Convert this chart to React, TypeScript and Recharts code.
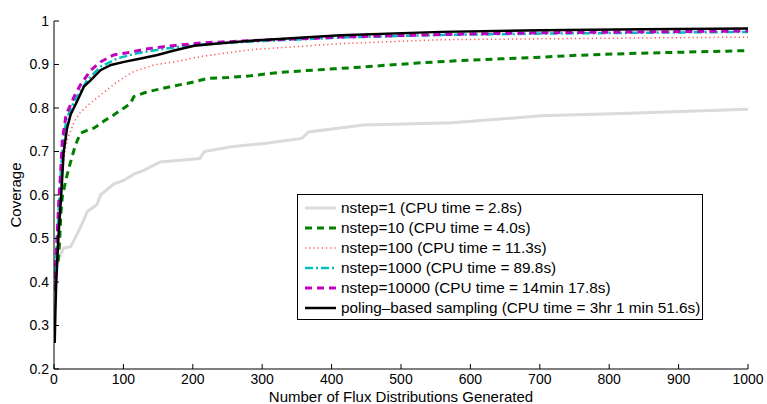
import { Legend, Line, LineChart, XAxis, YAxis } from "recharts";

const xTicks = [0, 100, 200, 300, 400, 500, 600, 700, 800, 900, 1000];
const yTicks = [0.2, 0.3, 0.4, 0.5, 0.6, 0.7, 0.8, 0.9, 1];

const grayX = [2, 5, 10, 14, 24, 34, 43, 48, 62, 67, 86, 101, 115, 130, 153, 210, 217, 255, 306, 357, 367, 446, 574, 638, 702, 829, 1000];
const grayY = [0.44, 0.445, 0.465, 0.478, 0.481, 0.512, 0.543, 0.562, 0.578, 0.6, 0.625, 0.634, 0.648, 0.657, 0.676, 0.684, 0.7, 0.711, 0.719, 0.73, 0.745, 0.761, 0.766, 0.774, 0.782, 0.788, 0.797];

const greenX = [2, 6, 8, 10, 12, 17, 22, 26, 31, 38, 50, 58, 72, 86, 100, 110, 115, 134, 168, 202, 221, 250, 283, 326, 364, 403, 443, 476, 520, 584, 644, 703, 752, 824, 897, 1000];
const greenY = [0.42, 0.45, 0.49, 0.56, 0.596, 0.634, 0.665, 0.688, 0.715, 0.742, 0.75, 0.754, 0.77, 0.784, 0.799, 0.81, 0.826, 0.837, 0.849, 0.86, 0.868, 0.87, 0.874, 0.882, 0.886, 0.89, 0.894, 0.898, 0.903, 0.909, 0.913, 0.917, 0.921, 0.925, 0.928, 0.932];

const redX = [1, 4, 7, 10, 12, 19, 29, 38, 48, 67, 91, 115, 144, 173, 211, 250, 283, 413, 558, 702, 850, 1000];
const redY = [0.4, 0.46, 0.55, 0.63, 0.665, 0.726, 0.768, 0.79, 0.805, 0.83, 0.86, 0.884, 0.899, 0.906, 0.918, 0.927, 0.934, 0.948, 0.957, 0.959, 0.961, 0.963];

const cyanX = [1, 2, 4, 7, 10, 13, 18, 29, 48, 67, 91, 120, 158, 202, 288, 413, 558, 702, 850, 1000];
const cyanY = [0.38, 0.43, 0.48, 0.575, 0.655, 0.72, 0.775, 0.815, 0.864, 0.895, 0.914, 0.926, 0.936, 0.945, 0.953, 0.962, 0.968, 0.971, 0.973, 0.975];

const magentaX = [1, 2, 4, 7, 10, 12, 17, 19, 29, 38, 53, 67, 86, 106, 130, 158, 183, 216, 288, 413, 558, 702, 850, 1000];
const magentaY = [0.38, 0.43, 0.49, 0.588, 0.665, 0.726, 0.78, 0.79, 0.826, 0.853, 0.887, 0.906, 0.922, 0.927, 0.935, 0.941, 0.945, 0.95, 0.955, 0.963, 0.969, 0.973, 0.975, 0.977];

const blackX = [1, 2, 3, 5, 7, 10, 14, 19, 24, 34, 43, 53, 67, 82, 101, 125, 149, 173, 202, 240, 288, 413, 558, 702, 850, 1000];
const blackY = [0.26, 0.33, 0.39, 0.46, 0.52, 0.59, 0.7, 0.755, 0.785, 0.818, 0.849, 0.864, 0.887, 0.899, 0.906, 0.914, 0.922, 0.932, 0.943, 0.949, 0.955, 0.967, 0.975, 0.979, 0.981, 0.983];

const zip = (xs: number[], ys: number[]) => xs.map((x, i) => ({ x, y: ys[i] }));

const series = [
    { name: "nstep=1 (CPU time = 2.8s)", data: zip(grayX, grayY), color: "#dadada", width: 3, dash: undefined },
    { name: "nstep=10 (CPU time = 4.0s)", data: zip(greenX, greenY), color: "#007f00", width: 3, dash: "7 5" },
    { name: "nstep=100 (CPU time = 11.3s)", data: zip(redX, redY), color: "#ff4f4f", width: 1.5, dash: "1.2 3" },
    { name: "nstep=1000 (CPU time = 89.8s)", data: zip(cyanX, cyanY), color: "#00bfbf", width: 2.5, dash: "8 3 2 3" },
    { name: "nstep=10000 (CPU time = 14min 17.8s)", data: zip(magentaX, magentaY), color: "#bf00bf", width: 3, dash: "7 5" },
    { name: "poling\u2013based sampling (CPU time = 3hr 1 min 51.6s)", data: zip(blackX, blackY), color: "#000000", width: 2.5, dash: undefined },
];

const font = "'Liberation Sans', Arial, Helvetica, sans-serif";

const LegendBox = () => (
    <div style={{ border: "1px solid #000", background: "#fff", padding: "3px 0 1px 0", width: 404, fontFamily: font, fontSize: 15.3, color: "#000" }}>
        {series.map((s) => (
            <div key={s.name} style={{ display: "flex", alignItems: "center", height: 20 }}>
                <svg width={40} height={20} style={{ display: "block" }}>
                    <line x1={7} y1={10} x2={38} y2={10} stroke={s.color} strokeWidth={s.width} strokeDasharray={s.dash} />
                </svg>
                <span style={{ whiteSpace: "nowrap", marginLeft: 3 }}>{s.name}</span>
            </div>
        ))}
    </div>
);

const YLabel = (props: any) => {
    const vb = props.viewBox;
    const cx = vb.x + 15;
    const cy = vb.y + vb.height / 2;
    return (
        <text x={cx} y={cy} transform={`rotate(-90 ${cx} ${cy})`} textAnchor="middle" dominantBaseline="central" fontSize={15} fontFamily={font} fill="#000">
            Coverage
        </text>
    );
};

export default function App() {
    const tickStyle = { fill: "#000", fontSize: 14, fontFamily: font };
    return (
        <div style={{ position: "absolute", left: 0, top: 0, width: 767, height: 404, background: "#fff" }}>
            <LineChart width={767} height={404} margin={{ top: 21, right: 19, bottom: 0, left: 0 }}>
                <XAxis
                    type="number"
                    dataKey="x"
                    domain={[0, 1000]}
                    ticks={xTicks}
                    height={35}
                    stroke="#000"
                    tickSize={-5}
                    tickMargin={10}
                    tick={tickStyle}
                    allowDataOverflow
                    label={{ value: "Number of Flux Distributions Generated", position: "insideBottom", offset: 2, fill: "#000", fontSize: 15, fontFamily: font }}
                />
                <XAxis xAxisId="top" orientation="top" type="number" domain={[0, 1000]} ticks={xTicks} height={0} stroke="#000" tickSize={-5} tickFormatter={() => ""} />
                <YAxis
                    type="number"
                    domain={[0.2, 1]}
                    ticks={yTicks}
                    width={54}
                    stroke="#000"
                    tickSize={-5}
                    tickMargin={10}
                    tick={tickStyle}
                    allowDataOverflow
                    tickFormatter={(v: number) => (v === 1 ? "1" : v.toFixed(1))}
                    label={{ content: YLabel }}
                />
                <YAxis yAxisId="right" orientation="right" type="number" domain={[0.2, 1]} ticks={yTicks} width={0} stroke="#000" tickSize={-5} tickFormatter={() => ""} />
                <Legend
                    layout="vertical"
                    align="center"
                    verticalAlign="middle"
                    wrapperStyle={{ left: 297, top: 194, width: 406 }}
                    content={() => <LegendBox />}
                />
                {series.map((s) => (
                    <Line
                        key={s.name}
                        data={s.data}
                        dataKey="y"
                        name={s.name}
                        type="linear"
                        stroke={s.color}
                        strokeWidth={s.width}
                        strokeDasharray={s.dash}
                        dot={false}
                        activeDot={false}
                        isAnimationActive={false}
                    />
                ))}
            </LineChart>
        </div>
    );
}
